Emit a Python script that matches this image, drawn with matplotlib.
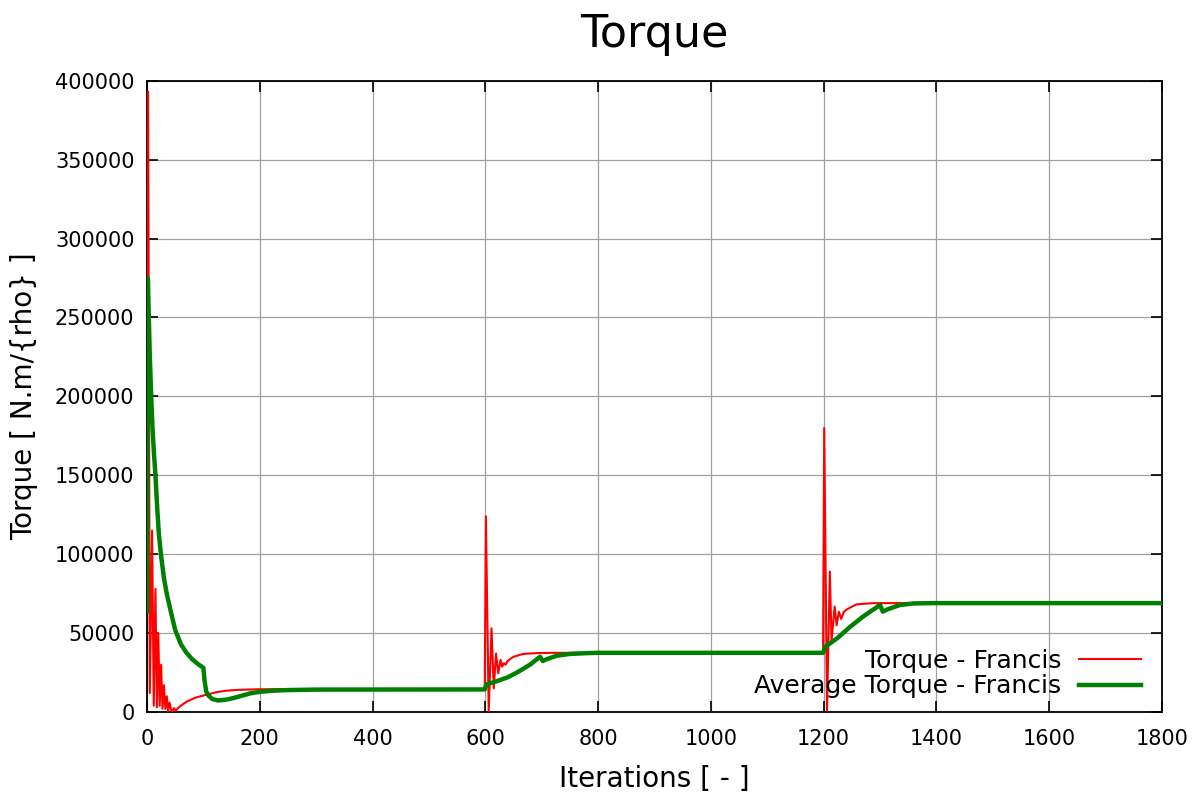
import matplotlib
matplotlib.use("Agg")
import matplotlib.pyplot as plt

# Torque - Francis (raw signal)
torque_iter = [0, 2, 5, 9, 12, 15, 17.5, 20, 22.5, 25, 27.5, 30, 32.5, 35, 37.5, 40, 44,
               48, 51, 55, 60, 70, 85, 106, 125, 141, 160, 195, 250, 400, 599,
               601, 606, 611, 615, 619, 623, 627, 630, 633, 636, 640, 650, 667, 691,
               720, 900, 1199,
               1201, 1206, 1211, 1214, 1219.5, 1223, 1227, 1231, 1236, 1241, 1258,
               1288, 1400, 1800]
torque_val = [64000, 393000, 12000, 115000, 4000, 78000, 3000, 50000, 4000, 30000, 2000,
              17000, 2000, 10000, 500, 6000, -500, 2500, 800, 2500, 4000, 6500, 9000,
              11000, 12700, 13500, 14000, 14400, 14500, 14500, 14500,
              124000, 500, 53000, 15000, 37000, 24500, 33000, 28700, 31000, 30000,
              32500, 35000, 36800, 37300, 37500, 37500, 37500,
              180000, 1000, 89000, 45000, 66800, 55000, 63600, 59000, 63600, 65000,
              68200, 69000, 69000, 69000]

# Average Torque - Francis
avg_iter = [0, 1.5, 5, 8, 10, 12.5, 15, 18, 21, 25, 30, 35, 42, 50, 60, 70, 80, 90, 100,
            102, 105, 110, 116, 126, 140, 153, 170, 183, 200, 224, 250, 300, 599,
            602, 620, 640, 660, 680, 697, 702, 709, 727, 750, 780, 800, 1199,
            1203, 1225, 1247, 1270, 1300, 1305, 1313, 1335, 1359, 1394, 1800]
avg_val = [64000, 275000, 225000, 195000, 178000, 163000, 150000, 130000, 113000, 99000,
           85000, 75000, 64000, 52000, 43000, 37500, 33500, 30500, 28000,
           20000, 13000, 10000, 8200, 7300, 7800, 8800, 10500, 11800, 12800, 13500,
           13900, 14200, 14300,
           17500, 19500, 22000, 25800, 30200, 35000, 32300, 33500, 35700, 36800, 37300,
           37500, 37500,
           41400, 47000, 54000, 60500, 67800, 63600, 65000, 67800, 68800, 69000, 69000]

x_ticks = list(range(0, 1801, 200))
y_ticks = list(range(0, 400001, 50000))

plt.rcParams["font.family"] = ["DejaVu Sans"]

fig = plt.figure(figsize=(12, 8), dpi=100)
ax = fig.add_axes([0.1225, 0.11, 0.8458, 0.789])

ax.plot(torque_iter, torque_val, color="#ff0000", lw=1.5, label="Torque - Francis", zorder=3)
ax.plot(avg_iter, avg_val, color="#008000", lw=3.2, label="Average Torque - Francis", zorder=4)

ax.set_xlim(0, 1800)
ax.set_ylim(0, 400000)
ax.set_xticks(x_ticks)
ax.set_yticks(y_ticks)
ax.set_xticklabels([str(v) for v in x_ticks])
ax.set_yticklabels([str(v) for v in y_ticks])

ax.grid(True, color="#a0a0a0", lw=0.9, zorder=0)
ax.tick_params(direction="in", length=8, width=1.2, top=True, right=True,
               labelsize=15, colors="black")
ax.tick_params(axis="x", pad=12)
ax.tick_params(axis="y", pad=9)
for spine in ax.spines.values():
    spine.set_linewidth(1.3)
    spine.set_color("black")

ax.set_title("Torque", fontsize=32, pad=24)
ax.set_xlabel("Iterations [ - ]", fontsize=20, labelpad=12)
ax.set_ylabel("Torque [ N.m/{rho} ]", fontsize=20, labelpad=12)

ax.legend(loc="lower right", frameon=False, markerfirst=False, fontsize=18,
          handlelength=2.5, handletextpad=0.7, labelspacing=0.05,
          borderaxespad=0.15, bbox_to_anchor=(0.993, 0.0))

fig.savefig("out.png", dpi=100, facecolor="white")
plt.close(fig)
